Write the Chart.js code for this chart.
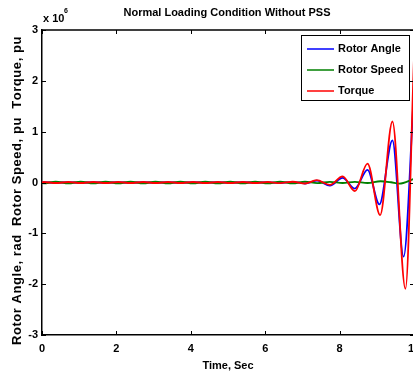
<!DOCTYPE html>
<html>
<head>
<meta charset="utf-8">
<script src="https://cdn.jsdelivr.net/npm/chart.js@4"></script>
<style>
  html, body { margin: 0; padding: 0; background: #fff; overflow: hidden; }
  #wrap { width: 413px; height: 373px; overflow: hidden; }
</style>
</head>
<body>
<div id="wrap"><canvas id="pssChart" width="450" height="373"></canvas></div>
<script>
  // values in units of 1e6 (axis shows "x 10^6")
  // Rotor angle, rad
  const angleTime = [0, 0.04, 0.37, 0.71, 1.04, 1.38, 1.71, 2.05, 2.38, 2.72, 3.05, 3.39, 3.72, 4.06, 4.39, 4.73, 5.06, 5.40, 5.73, 6.07, 6.40, 6.74, 7.07, 7.40, 7.74, 8.08, 8.41, 8.75, 9.07, 9.42, 9.72, 10];
  const angleVals = [0, 0.008, -0.008, 0.008, -0.008, 0.008, -0.008, 0.008, -0.008, 0.008, -0.008, 0.008, -0.008, 0.008, -0.008, 0.008, -0.008, 0.008, -0.008, 0.008, -0.010, 0.012, -0.020, 0.035, -0.060, 0.09, -0.12, 0.25, -0.43, 0.83, -1.46, 1.80];

  // Rotor speed, pu
  const speedTime = [0, 0.04, 0.37, 0.71, 1.04, 1.38, 1.71, 2.05, 2.38, 2.72, 3.05, 3.39, 3.72, 4.06, 4.39, 4.73, 5.06, 5.40, 5.73, 6.07, 6.40, 6.74, 7.07, 7.40, 7.74, 8.08, 8.41, 8.75, 9.10, 9.38, 9.60, 10];
  const speedVals = [0, -0.018, 0.018, -0.018, 0.018, -0.018, 0.018, -0.018, 0.018, -0.018, 0.018, -0.018, 0.018, -0.018, 0.018, -0.018, 0.018, -0.018, 0.018, -0.018, 0.018, -0.018, 0.018, -0.012, 0.012, -0.010, 0.012, -0.010, 0.025, 0.005, -0.022, 0.070];

  // Torque, pu
  const torqueTime = [0, 0.04, 0.37, 0.71, 1.04, 1.38, 1.71, 2.05, 2.38, 2.72, 3.05, 3.39, 3.72, 4.06, 4.39, 4.73, 5.06, 5.40, 5.73, 6.07, 6.40, 6.74, 7.07, 7.38, 7.74, 8.08, 8.41, 8.75, 9.09, 9.42, 9.77, 10];
  const torqueVals = [0, 0.010, -0.010, 0.010, -0.010, 0.010, -0.010, 0.010, -0.010, 0.010, -0.010, 0.010, -0.010, 0.010, -0.010, 0.010, -0.010, 0.010, -0.010, 0.010, -0.012, 0.015, -0.020, 0.045, -0.045, 0.12, -0.17, 0.37, -0.64, 1.20, -2.09, 2.45];

  const xTicks = [0, 2, 4, 6, 8, 10];
  const yTicks = [-3, -2, -1, 0, 1, 2, 3];
  const seriesNames = ['Rotor Angle', 'Rotor Speed', 'Torque'];
  const seriesColors = ['#0000ff', '#008000', '#ff0000'];
  const yTitle = 'Rotor Angle, rad  Rotor Speed, pu  Torque, pu';

  const FONT = '"Liberation Sans", Arial, sans-serif';

  function toPoints(ts, vs) {
    return ts.map((t, i) => ({ x: t, y: vs[i] }));
  }

  // axes box, inward ticks, titles and the legend box, matlab style
  const matlabDecor = {
    id: 'matlabDecor',
    afterDraw(chart) {
      const ctx = chart.ctx;
      const a = chart.chartArea;
      const xs = chart.scales.x, ys = chart.scales.y;
      ctx.save();
      ctx.strokeStyle = '#000';
      ctx.lineWidth = 1.5;
      ctx.beginPath();
      ctx.moveTo(a.left, a.top); ctx.lineTo(a.right, a.top);
      ctx.moveTo(a.right, a.top); ctx.lineTo(a.right, a.bottom);
      ctx.stroke();

      ctx.lineWidth = 1;
      ctx.beginPath();
      xTicks.forEach(v => {
        const px = Math.round(xs.getPixelForValue(v)) + 0.5;
        ctx.moveTo(px, a.top); ctx.lineTo(px, a.top + 4);
        ctx.moveTo(px, a.bottom); ctx.lineTo(px, a.bottom - 4);
      });
      yTicks.forEach(v => {
        const py = Math.round(ys.getPixelForValue(v)) + 0.5;
        ctx.moveTo(a.left, py); ctx.lineTo(a.left + 4, py);
        ctx.moveTo(a.right, py); ctx.lineTo(a.right - 4, py);
      });
      ctx.stroke();

      ctx.fillStyle = '#000';
      ctx.textAlign = 'center';
      ctx.textBaseline = 'middle';
      ctx.font = 'bold 11px ' + FONT;
      ctx.fillText('Normal Loading Condition Without PSS', 227, 13);

      // exponent label
      ctx.textAlign = 'left';
      ctx.fillText('x 10', 43, 19);
      ctx.font = 'bold 7px ' + FONT;
      ctx.fillText('6', 64, 11);

      // y title, about 308px long like the original
      ctx.font = 'bold 13px ' + FONT;
      const w = ctx.measureText(yTitle).width;
      const sp = Math.max(0, (308 - w) / yTitle.length);
      ctx.save();
      ctx.translate(17, 191);
      ctx.rotate(-Math.PI / 2);
      ctx.textAlign = 'left';
      let cx = -154;
      for (const ch of yTitle) {
        ctx.fillText(ch, cx, 0);
        cx += ctx.measureText(ch).width + sp;
      }
      ctx.restore();

      // legend
      const lx = 301, ly = 35, lw = 108, lh = 65;
      ctx.fillStyle = '#fff';
      ctx.fillRect(lx, ly, lw, lh);
      ctx.strokeStyle = '#000';
      ctx.lineWidth = 1;
      ctx.strokeRect(lx + 0.5, ly + 0.5, lw, lh);
      ctx.font = 'bold 11px ' + FONT;
      ctx.textAlign = 'left';
      ctx.textBaseline = 'middle';
      seriesNames.forEach((name, i) => {
        const y = ly + 14 + i * 21;
        ctx.strokeStyle = seriesColors[i];
        ctx.lineWidth = 1.5;
        ctx.beginPath();
        ctx.moveTo(307, y); ctx.lineTo(334, y);
        ctx.stroke();
        ctx.fillStyle = '#000';
        ctx.fillText(name, 338, y);
      });
      ctx.restore();
    }
  };

  const ctx = document.getElementById('pssChart').getContext('2d');
  const pssChart = new Chart(ctx, {
    type: 'line',
    data: {
      datasets: [
        { label: seriesNames[0], data: toPoints(angleTime, angleVals), borderColor: seriesColors[0], order: 3 },
        { label: seriesNames[1], data: toPoints(speedTime, speedVals), borderColor: seriesColors[1], order: 2 },
        { label: seriesNames[2], data: toPoints(torqueTime, torqueVals), borderColor: seriesColors[2], order: 1 }
      ]
    },
    options: {
      responsive: false,
      animation: false,
      clip: false,
      layout: { padding: { top: 30, right: 36, left: 0, bottom: 0 } },
      elements: {
        point: { radius: 0 },
        line: { borderWidth: 1.8, cubicInterpolationMode: 'monotone', fill: false }
      },
      plugins: {
        legend: { display: false },
        tooltip: { enabled: false }
      },
      scales: {
        x: {
          type: 'linear',
          min: 0, max: 10,
          afterFit: s => { s.height = 38; },
          afterBuildTicks: s => { s.ticks = xTicks.map(v => ({ value: v })); },
          grid: { display: false, drawTicks: false },
          border: { display: true, color: '#000', width: 1.5 },
          ticks: { color: '#000', padding: 7, maxRotation: 0, font: { family: FONT, size: 11, weight: 'bold' } },
          title: { display: true, text: 'Time, Sec', color: '#000', padding: { top: 0, bottom: 0 }, font: { family: FONT, size: 11, weight: 'bold' } }
        },
        y: {
          type: 'linear',
          min: -3, max: 3,
          afterFit: s => { s.width = 42; },
          afterBuildTicks: s => { s.ticks = yTicks.map(v => ({ value: v })); },
          grid: { display: false, drawTicks: false },
          border: { display: true, color: '#000', width: 1.5 },
          ticks: { color: '#000', padding: 4, font: { family: FONT, size: 11, weight: 'bold' } }
        }
      }
    },
    plugins: [matlabDecor]
  });
</script>
</body>
</html>
